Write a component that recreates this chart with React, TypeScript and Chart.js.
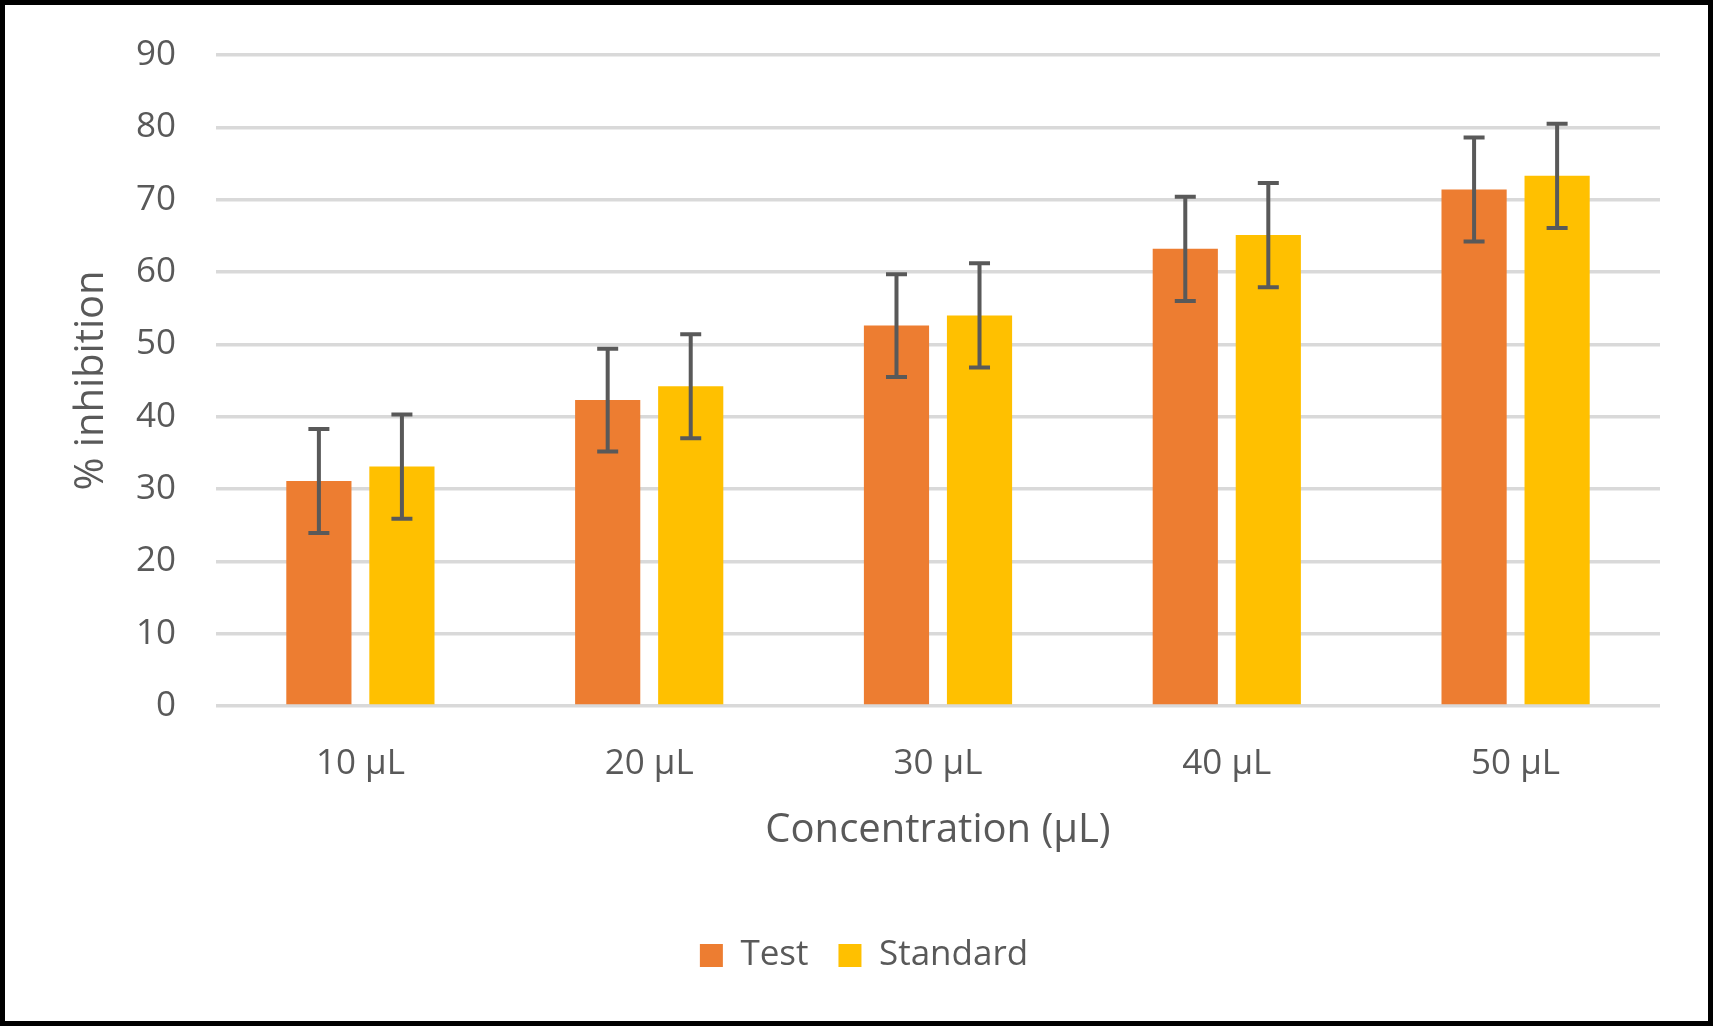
import { useEffect, useRef } from "react";
import { Chart, registerables } from "chart.js";

Chart.register(...registerables);

const categories = ["10 µL", "20 µL", "30 µL", "40 µL", "50 µL"];
const testValues = [31.1, 42.3, 52.6, 63.2, 71.4];
const testErrors = [7.2, 7.1, 7.1, 7.2, 7.2];
const standardValues = [33.1, 44.2, 54.0, 65.1, 73.3];
const standardErrors = [7.2, 7.2, 7.2, 7.2, 7.2];
const yTicks = { min: 0, max: 90, step: 10 };

const FONT = "'Open Sans', 'DejaVu Sans', sans-serif";
const TEXT = "#595959";

// draws the +/- error whiskers on top of each bar
const errorBars = {
  id: "errorBars",
  afterDatasetsDraw(chart: Chart) {
    const { ctx } = chart;
    const y = chart.scales.y;
    ctx.save();
    ctx.strokeStyle = "#595959";
    ctx.lineWidth = 4;
    chart.data.datasets.forEach((ds: any, i: number) => {
      const meta = chart.getDatasetMeta(i);
      const errs: number[] = ds.errors || [];
      meta.data.forEach((bar: any, j: number) => {
        const v = ds.data[j] as number;
        const top = y.getPixelForValue(v + errs[j]);
        const bot = y.getPixelForValue(v - errs[j]);
        const cap = 10.5;
        ctx.beginPath();
        ctx.moveTo(bar.x, top);
        ctx.lineTo(bar.x, bot);
        ctx.moveTo(bar.x - cap, top);
        ctx.lineTo(bar.x + cap, top);
        ctx.moveTo(bar.x - cap, bot);
        ctx.lineTo(bar.x + cap, bot);
        ctx.stroke();
      });
    });
    ctx.restore();
  },
};

export default function App() {
  const canvasRef = useRef<HTMLCanvasElement | null>(null);
  const chartRef = useRef<Chart | null>(null);

  useEffect(() => {
    if (!canvasRef.current) return;
    chartRef.current?.destroy();
    chartRef.current = new Chart(canvasRef.current, {
      type: "bar",
      data: {
        labels: categories,
        datasets: [
          {
            label: "Test",
            data: testValues,
            errors: testErrors,
            backgroundColor: "#ED7D31",
            categoryPercentage: 0.575,
            barPercentage: 0.785,
          } as any,
          {
            label: "Standard",
            data: standardValues,
            errors: standardErrors,
            backgroundColor: "#FFC000",
            categoryPercentage: 0.575,
            barPercentage: 0.785,
          } as any,
        ],
      },
      options: {
        responsive: false,
        animation: false,
        maintainAspectRatio: false,
        layout: { padding: { left: 63, right: 48, top: 50, bottom: 38 } },
        plugins: {
          legend: {
            position: "bottom",
            labels: {
              font: { family: FONT, size: 35 },
              color: TEXT,
              boxWidth: 23,
              boxHeight: 23,
              padding: 30,
            },
          },
          tooltip: { enabled: false },
        },
        scales: {
          x: {
            grid: { display: false },
            border: { display: false },
            ticks: { font: { family: FONT, size: 35 }, color: TEXT, padding: 29 },
            title: {
              display: true,
              text: "Concentration (µL)",
              font: { family: FONT, size: 40 },
              color: TEXT,
              padding: { top: 0, bottom: 53 },
            },
            afterFit: (axis: any) => {
              axis.height = 202;
            },
          },
          y: {
            min: yTicks.min,
            max: yTicks.max,
            grid: { color: "#D9D9D9", lineWidth: 3.5, drawTicks: false },
            border: { display: false },
            ticks: {
              stepSize: yTicks.step,
              font: { family: FONT, size: 35 },
              color: TEXT,
              padding: 40,
            },
            title: {
              display: true,
              text: "% inhibition",
              font: { family: FONT, size: 40 },
              color: TEXT,
              padding: { top: 0, bottom: 0 },
            },
            afterFit: (axis: any) => {
              axis.width = 148;
              axis.paddingTop = 0;
              axis.paddingBottom = 0;
            },
          },
        },
      },
      plugins: [errorBars],
    });
    return () => {
      chartRef.current?.destroy();
      chartRef.current = null;
    };
  }, []);

  return (
    <div
      style={{
        position: "absolute",
        left: 0,
        top: 0,
        width: 1713,
        height: 1026,
        boxSizing: "border-box",
        border: "5px solid #000",
        background: "#fff",
      }}
    >
      <canvas ref={canvasRef} width={1703} height={1016} style={{ display: "block" }} />
    </div>
  );
}
